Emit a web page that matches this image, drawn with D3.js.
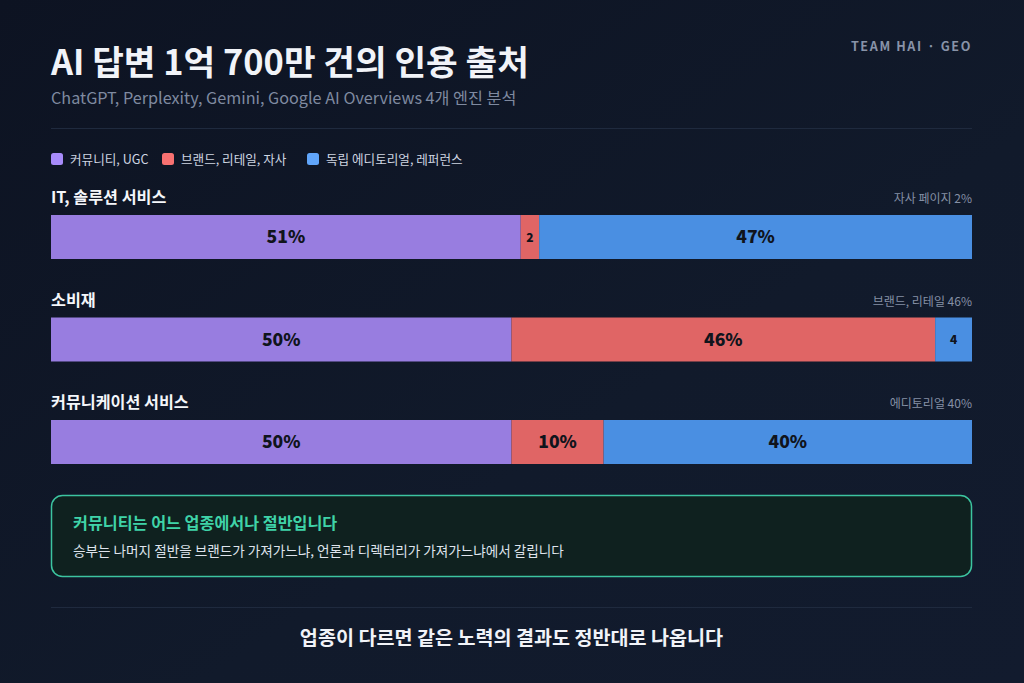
<!DOCTYPE html>
<html>
<head>
<meta charset="utf-8">
<script src="https://cdn.jsdelivr.net/npm/d3@7/dist/d3.min.js"></script>
<style>
	html, body { margin: 0; padding: 0; background: #0f1626; }
	svg { display: block; font-family: "Noto Sans CJK KR", "Noto Sans", sans-serif; }
</style>
</head>
<body>
<svg id="chart" width="1024" height="683"></svg>
<script>
const Width = 1024;
const Height = 683;

// industries and their share of citations per source type
const industries = ["IT, 솔루션 서비스", "소비재", "커뮤니케이션 서비스"];
const notes = ["자사 페이지 2%", "브랜드, 리테일 46%", "에디토리얼 40%"];
const sources = ["커뮤니티, UGC", "브랜드, 리테일, 자사", "독립 에디토리얼, 레퍼런스"];
const community = [51, 50, 50];
const brand = [2, 46, 10];
const editorial = [47, 4, 40];

const barColors = ["#987de0", "#e06565", "#4a8fe2"];
const swatchColors = ["#a78bfa", "#f87171", "#60a5fa"];

const left = 51, right = 972;
const svg = d3.select("#chart");

// background gradient
const defs = svg.append("defs");
const bg = defs.append("linearGradient").attr("id", "bg").attr("x1", 0).attr("y1", 0).attr("x2", 1).attr("y2", 1);
bg.append("stop").attr("offset", "0%").attr("stop-color", "#0d1322");
bg.append("stop").attr("offset", "60%").attr("stop-color", "#111a2b");
bg.append("stop").attr("offset", "100%").attr("stop-color", "#121b2e");
svg.append("rect").attr("width", Width).attr("height", Height).attr("fill", "url(#bg)");

// header
svg.append("text").attr("x", left).attr("y", 75).attr("fill", "#f1f3f8").attr("font-size", 34.4).attr("font-weight", 700)
	.text("AI 답변 1억 700만 건의 인용 출처");
svg.append("text").attr("x", left).attr("y", 104).attr("fill", "#7f8aa0").attr("font-size", 16.2)
	.text("ChatGPT, Perplexity, Gemini, Google AI Overviews 4개 엔진 분석");
svg.append("text").attr("x", right).attr("y", 51).attr("text-anchor", "end").attr("fill", "#8893a8")
	.attr("font-size", 12.6).attr("font-weight", 700).attr("letter-spacing", 1.6).text("TEAM HAI · GEO");
svg.append("line").attr("x1", left).attr("x2", right).attr("y1", 128.5).attr("y2", 128.5).attr("stroke", "#1f2a3e");

// legend
const legend = svg.append("g").attr("transform", "translate(51,153)");
const legX = [0, 111, 256];
const legItems = legend.selectAll("g").data(sources).enter().append("g")
	.attr("transform", (d, i) => `translate(${legX[i]},0)`);
legItems.append("rect").attr("width", 12).attr("height", 12).attr("rx", 2.5).attr("fill", (d, i) => swatchColors[i]);
legItems.append("text").attr("x", 19).attr("y", 10.5).attr("font-size", 12.6).attr("fill", "#cfd6e2").text(d => d);

// stacked bars
const x = d3.scaleLinear().domain([0, 100]).range([left, right]);
const y = d3.scaleBand().domain(industries).range([198, 198 + 3 * 102.5]);
const rows = industries.map((name, i) => ({ name, note: notes[i], values: [community[i], brand[i], editorial[i]] }));
const stack = d3.stack().keys([0, 1, 2]).value((d, k) => d.values[k]);
const series = stack(rows);

const rowG = svg.selectAll("g.row").data(rows).enter().append("g").attr("class", "row")
	.attr("transform", d => `translate(0,${y(d.name)})`);
rowG.append("text").attr("x", left).attr("y", 5).attr("font-size", 16.2).attr("font-weight", 700).attr("fill", "#f4f6fa").text(d => d.name);
rowG.append("text").attr("x", right).attr("y", 5).attr("text-anchor", "end").attr("font-size", 12).attr("fill", "#8590a5").text(d => d.note);

const barTop = 17, barH = 44;
series.forEach((s, k) => {
	const segs = svg.append("g").selectAll("g").data(s).enter().append("g")
		.attr("transform", d => `translate(0,${y(d.data.name) + barTop})`);
	segs.append("rect").attr("x", d => x(d[0])).attr("width", d => x(d[1]) - x(d[0])).attr("height", barH).attr("fill", barColors[k]);
	segs.append("text")
		.attr("x", d => (x(d[0]) + x(d[1])) / 2)
		.attr("y", d => (d[1] - d[0]) < 8 ? barH / 2 + 4.5 : barH / 2 + 6)
		.attr("text-anchor", "middle").attr("fill", "#10141c").attr("font-weight", 900)
		.attr("font-size", d => (d[1] - d[0]) < 8 ? 12 : 17.5)
		.text(d => (d[1] - d[0]) < 8 ? (d[1] - d[0]) : (d[1] - d[0]) + "%");
});

// takeaway box
svg.append("rect").attr("x", left + 0.5).attr("y", 495.5).attr("width", right - left - 1).attr("height", 81).attr("rx", 11)
	.attr("fill", "#0f211f").attr("stroke", "#3cc4a0").attr("stroke-width", 1.5);
svg.append("text").attr("x", 73).attr("y", 529).attr("font-size", 16.2).attr("font-weight", 700).attr("fill", "#3fd3a8")
	.text("커뮤니티는 어느 업종에서나 절반입니다");
svg.append("text").attr("x", 73).attr("y", 556).attr("font-size", 13.6).attr("fill", "#dfe4ec")
	.text("승부는 나머지 절반을 브랜드가 가져가느냐, 언론과 디렉터리가 가져가느냐에서 갈립니다");

// footer
svg.append("line").attr("x1", left).attr("x2", right).attr("y1", 607.5).attr("y2", 607.5).attr("stroke", "#1f2a3e");
svg.append("text").attr("x", (left + right) / 2).attr("y", 645).attr("text-anchor", "middle").attr("font-size", 19.6)
	.attr("font-weight", 700).attr("fill", "#f1f3f8").text("업종이 다르면 같은 노력의 결과도 정반대로 나옵니다");
</script>
</body>
</html>
